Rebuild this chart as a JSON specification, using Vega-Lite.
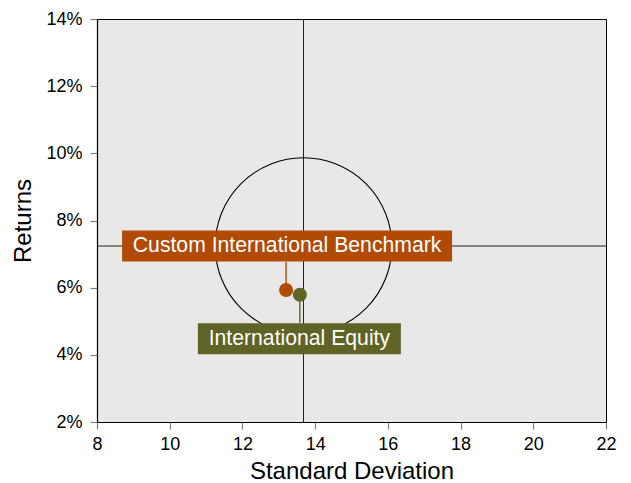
{
  "$schema": "https://vega.github.io/schema/vega-lite/v6.json",
  "width": 509,
  "height": 403,
  "autosize": {"type": "none"},
  "padding": {"left": 97, "top": 19, "right": 25, "bottom": 61},
  "background": "white",
  "config": {
    "font": "Liberation Sans",
    "view": {"fill": "#E8E8E8", "stroke": "#000000", "strokeWidth": 1},
    "axis": {
      "grid": false,
      "domainColor": "#000000",
      "domainWidth": 1.2,
      "tickColor": "#808080",
      "tickWidth": 1.2,
      "tickSize": 7,
      "labelFontSize": 18,
      "labelColor": "#000000",
      "labelFont": "Liberation Sans",
      "titleFont": "Liberation Sans",
      "titleFontSize": 24,
      "titleFontWeight": "normal",
      "titleColor": "#000000"
    }
  },
  "datasets": {
    "points": [
      {"name": "Custom International Benchmark", "sd": 13.2, "ret": 5.93},
      {"name": "International Equity", "sd": 13.58, "ret": 5.79}
    ],
    "center": [
      {"sd": 13.68, "ret": 7.24}
    ]
  },
  "layer": [
    {
      "data": {"name": "center"},
      "mark": {"type": "rule", "color": "#222222", "strokeWidth": 1},
      "encoding": {"x": {"field": "sd", "type": "quantitative"}}
    },
    {
      "data": {"name": "center"},
      "mark": {"type": "rule", "color": "#222222", "strokeWidth": 1},
      "encoding": {"y": {"field": "ret", "type": "quantitative"}}
    },
    {
      "data": {"name": "center"},
      "mark": {"type": "point", "shape": "circle", "filled": false, "stroke": "#000000", "strokeWidth": 1.1, "opacity": 1, "size": 31190},
      "encoding": {
        "x": {"field": "sd", "type": "quantitative"},
        "y": {"field": "ret", "type": "quantitative"}
      }
    },
    {
      "data": {"name": "points"},
      "transform": [{"filter": "datum.name === 'Custom International Benchmark'"}],
      "mark": {"type": "point", "shape": "M0,0V-1", "filled": false, "stroke": "#B04A05", "strokeWidth": 1.4, "opacity": 1, "size": 3136},
      "encoding": {
        "x": {"field": "sd", "type": "quantitative"},
        "y": {"field": "ret", "type": "quantitative"}
      }
    },
    {
      "data": {"name": "points"},
      "transform": [{"filter": "datum.name === 'International Equity'"}],
      "mark": {"type": "point", "shape": "M0,0V1", "filled": false, "stroke": "#5F6325", "strokeWidth": 1.4, "opacity": 1, "size": 3136},
      "encoding": {
        "x": {"field": "sd", "type": "quantitative"},
        "y": {"field": "ret", "type": "quantitative"}
      }
    },
    {
      "data": {"name": "points"},
      "transform": [{"filter": "datum.name === 'Custom International Benchmark'"}],
      "mark": {"type": "point", "shape": "M-1,-0.094H1V0.094H-1Z", "filled": true, "fill": "#B04A05", "strokeWidth": 0, "opacity": 1, "size": 108900, "xOffset": 1, "yOffset": -44},
      "encoding": {
        "x": {"field": "sd", "type": "quantitative"},
        "y": {"field": "ret", "type": "quantitative"}
      }
    },
    {
      "data": {"name": "points"},
      "transform": [{"filter": "datum.name === 'International Equity'"}],
      "mark": {"type": "point", "shape": "M-1,-0.1527H1V0.1527H-1Z", "filled": true, "fill": "#5F6325", "strokeWidth": 0, "opacity": 1, "size": 41209, "xOffset": -0.5, "yOffset": 44},
      "encoding": {
        "x": {"field": "sd", "type": "quantitative"},
        "y": {"field": "ret", "type": "quantitative"}
      }
    },
    {
      "data": {"name": "points"},
      "transform": [{"filter": "datum.name === 'Custom International Benchmark'"}],
      "mark": {"type": "text", "color": "#FFFFFF", "fontSize": 21.2, "align": "center", "baseline": "middle", "xOffset": 1, "yOffset": -44},
      "encoding": {
        "x": {"field": "sd", "type": "quantitative"},
        "y": {"field": "ret", "type": "quantitative"},
        "text": {"field": "name"}
      }
    },
    {
      "data": {"name": "points"},
      "transform": [{"filter": "datum.name === 'International Equity'"}],
      "mark": {"type": "text", "color": "#FFFFFF", "fontSize": 21.2, "align": "center", "baseline": "middle", "xOffset": -0.5, "yOffset": 44},
      "encoding": {
        "x": {"field": "sd", "type": "quantitative"},
        "y": {"field": "ret", "type": "quantitative"},
        "text": {"field": "name"}
      }
    },
    {
      "data": {"name": "points"},
      "mark": {"type": "point", "shape": "circle", "filled": true, "opacity": 1, "size": 196, "strokeWidth": 0},
      "encoding": {
        "x": {
          "field": "sd", "type": "quantitative",
          "scale": {"domain": [8, 22], "nice": false, "zero": false},
          "axis": {"title": "Standard Deviation", "values": [8, 10, 12, 14, 16, 18, 20, 22], "labelPadding": 6, "titlePadding": 6, "labelFlush": false}
        },
        "y": {
          "field": "ret", "type": "quantitative",
          "scale": {"domain": [2, 14], "nice": false, "zero": false},
          "axis": {"title": "Returns", "values": [2, 4, 6, 8, 10, 12, 14], "labelExpr": "datum.value + '%'", "labelPadding": 8, "titlePadding": 10, "labelFlush": false}
        },
        "color": {
          "field": "name", "type": "nominal",
          "scale": {"domain": ["Custom International Benchmark", "International Equity"], "range": ["#B04A05", "#5F6325"]},
          "legend": null
        }
      }
    }
  ]
}
